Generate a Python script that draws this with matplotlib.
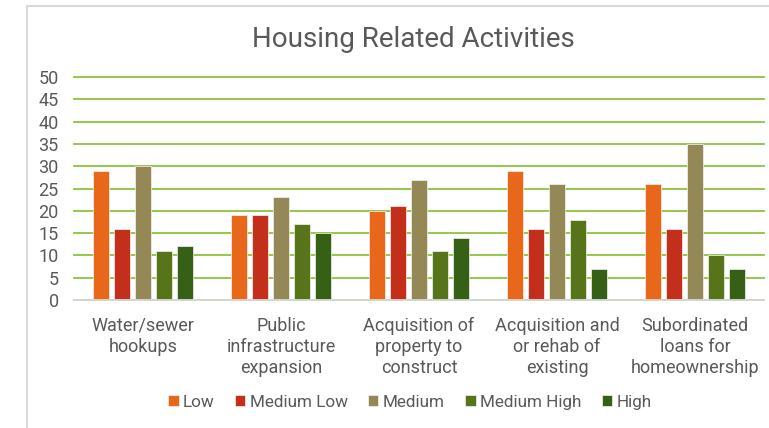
import numpy as np
import matplotlib.pyplot as plt
from matplotlib.lines import Line2D

# dane
categories = ["Water/sewer\nhookups", "Public\ninfrastructure\nexpansion",
              "Acquisition of\nproperty to\nconstruct", "Acquisition and\nor rehab of\nexisting",
              "Subordinated\nloans for\nhomeownership"]
series_names = ["Low", "Medium Low", "Medium", "Medium High", "High"]
low = [29, 19, 20, 29, 26]
medium_low = [16, 19, 21, 16, 16]
medium = [30, 23, 27, 26, 35]
medium_high = [11, 17, 11, 18, 10]
high = [12, 15, 14, 7, 7]
yticks = [0, 5, 10, 15, 20, 25, 30, 35, 40, 45, 50]

colors = ["#E8671A", "#C32F1B", "#948856", "#58741A", "#356016"]

plt.rcParams['font.family'] = ['Roboto', 'DejaVu Sans']

fig = plt.figure(figsize=(7.69, 4.28), dpi=100)
ax = fig.add_axes([74 / 769, 1 - 300 / 428, 690 / 769, 223 / 428])

values = [low, medium_low, medium, medium_high, high]
x = np.arange(len(categories))
step = 0.152
width = 0.12
for i, (name, vals) in enumerate(zip(series_names, values)):
    ax.bar(x + (i - 2) * step, vals, width, color=colors[i], label=name,
           edgecolor="#F4F4F0", linewidth=0.5, zorder=3)

ax.set_xlim(-0.5, len(categories) - 0.5)
ax.set_ylim(0, 50)
ax.set_yticks(yticks)
ax.yaxis.grid(True, color="#8CC43C", linewidth=1.3, zorder=0)
for gl in ax.yaxis.get_gridlines():
    gl.set_clip_on(False)
ax.set_axisbelow(True)
for s in ["top", "right", "left"]:
    ax.spines[s].set_visible(False)
ax.spines["bottom"].set_color("#D9D9D9")
ax.spines["bottom"].set_linewidth(1.3)
ax.spines["bottom"].set_zorder(4)
ax.tick_params(axis="both", length=0, labelsize=13, colors="#595959")
ax.tick_params(axis="y", pad=11)
ax.set_xticks(x)
ax.set_xticklabels(categories, fontsize=13, linespacing=1.24)
ax.tick_params(axis="x", pad=12)

fig.text(0.538, 0.908, "Housing Related Activities", ha="center", va="center",
         fontsize=20, color="#595959")

fig.legend(loc="center", bbox_to_anchor=(0.533, 0.06), ncol=5, frameon=False,
           fontsize=12.3, handlelength=0.6, handleheight=0.6, handletextpad=0.25,
           columnspacing=1.2, labelcolor="#595959")

# ramka wykresu
fig.add_artist(Line2D([27 / 769, 27 / 769], [0, 1 - 6 / 428], transform=fig.transFigure,
                      color="#D9D9D9", linewidth=1.5))
fig.add_artist(Line2D([27 / 769, 1], [1 - 6 / 428, 1 - 6 / 428], transform=fig.transFigure,
                      color="#D9D9D9", linewidth=1.5))

fig.savefig("out.png", dpi=100)
